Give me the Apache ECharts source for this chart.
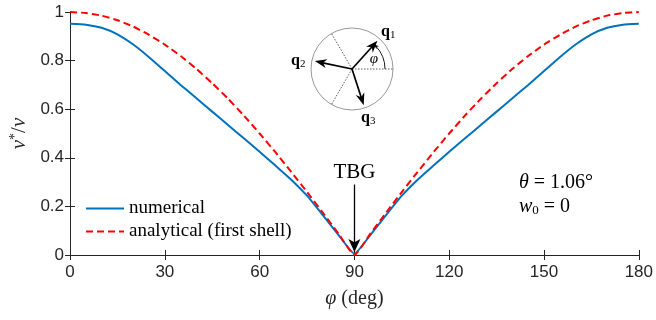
<!DOCTYPE html>
<html>
<head>
<meta charset="utf-8">
<script src="https://cdn.jsdelivr.net/npm/echarts@6/dist/echarts.min.js"></script>
<style>
  html, body { margin: 0; padding: 0; background: #fff; }
  #chart { width: 656px; height: 320px; }
</style>
</head>
<body>
<div id="chart"></div>
<script>
// angle phi (deg), every 5 degrees
const phi = [0, 5, 10, 15, 20, 25, 30, 35, 40, 45, 50, 55, 60, 65, 70, 75, 80, 85, 90,
  95, 100, 105, 110, 115, 120, 125, 130, 135, 140, 145, 150, 155, 160, 165, 170, 175, 180];
const numerical = [0.952, 0.948, 0.935, 0.908, 0.866, 0.814, 0.757, 0.700, 0.645, 0.590,
  0.535, 0.480, 0.425, 0.368, 0.310, 0.244, 0.164, 0.082, 0.005,
  0.082, 0.164, 0.244, 0.310, 0.368, 0.425, 0.480, 0.535, 0.590, 0.645, 0.700,
  0.757, 0.814, 0.866, 0.908, 0.935, 0.948, 0.952];
const analytical = [1.000, 0.996, 0.985, 0.966, 0.940, 0.906, 0.866, 0.819, 0.766, 0.707,
  0.643, 0.574, 0.500, 0.423, 0.342, 0.259, 0.174, 0.087, 0.000,
  0.087, 0.174, 0.259, 0.342, 0.423, 0.500, 0.574, 0.643, 0.707, 0.766, 0.819,
  0.866, 0.906, 0.940, 0.966, 0.985, 0.996, 1.000];
const xTicks = [0, 30, 60, 90, 120, 150, 180];
const yTicks = [0, 0.2, 0.4, 0.6, 0.8, 1];

const chart = echarts.init(document.getElementById('chart'));

const axisColor = '#262626';
const serif = 'Liberation Serif';

// inset: reciprocal vectors q1, q2, q3 in a circle
const cx = 352, cy = 69, R = 41;
const rad = (a) => (a * Math.PI) / 180;
const pt = (a, r) => [cx + r * Math.cos(rad(a)), cy - r * Math.sin(rad(a))];

function head(tip, a, len, w) {
  const dx = Math.cos(rad(a)), dy = -Math.sin(rad(a));
  const bx = tip[0] - dx * len, by = tip[1] - dy * len;
  const nx = tip[0] - dx * len * 0.7, ny = tip[1] - dy * len * 0.7;
  return [tip, [bx - dy * w, by + dx * w], [nx, ny], [bx + dy * w, by - dx * w]];
}

const inset = [];
inset.push({ type: 'circle', shape: { cx, cy, r: R }, style: { fill: 'none', stroke: '#999', lineWidth: 1 } });
[0, 120, 240].forEach((a) => {
  const p = pt(a, R);
  inset.push({ type: 'line', shape: { x1: cx, y1: cy, x2: p[0], y2: p[1] },
    style: { stroke: '#333', lineWidth: 0.8, lineDash: [1.5, 1.5] } });
});
[48, 168, 288].forEach((a) => {
  const p = pt(a, R - 3);
  const q = pt(a, R - 10);
  inset.push({ type: 'line', shape: { x1: cx, y1: cy, x2: q[0], y2: q[1] },
    style: { stroke: '#000', lineWidth: 1.7 } });
  inset.push({ type: 'polygon', shape: { points: head(p, a, 12, 4.5) }, style: { fill: '#000' } });
});
// phi arc
inset.push({ type: 'arc', shape: { cx, cy, r: 33, startAngle: 0, endAngle: -rad(44), clockwise: false },
  style: { stroke: '#000', lineWidth: 0.9, fill: 'none' } });
inset.push({ type: 'polygon', shape: { points: head(pt(48, 33), 138, 5, 2) }, style: { fill: '#000' } });
inset.push({ type: 'text', x: 374, y: 59, style: { text: 'φ', font: 'italic 15px ' + serif, fill: '#000', align: 'center', verticalAlign: 'middle' } });

const qLabels = [['1', 381, 32], ['2', 291, 61], ['3', 361, 118]];
qLabels.forEach(([s, x, y]) => {
  inset.push({ type: 'text', x, y, style: { text: 'q', font: 'bold 16px ' + serif, fill: '#000', verticalAlign: 'middle' } });
  inset.push({ type: 'text', x: x + 9, y: y + 3, style: { text: s, font: '11px ' + serif, fill: '#000', verticalAlign: 'middle' } });
});

const annot = [
  { type: 'text', x: 519, y: 183, style: {
    text: '{i|θ} = 1.06°', font: '20px ' + serif, fill: '#000', verticalAlign: 'middle',
    rich: { i: { fontStyle: 'italic', fontFamily: serif, fontSize: 20 } } } },
  { type: 'text', x: 519, y: 207, style: {
    text: '{i|w}{s|0} = 0', font: '20px ' + serif, fill: '#000', verticalAlign: 'middle',
    rich: { i: { fontStyle: 'italic', fontFamily: serif, fontSize: 20 },
      s: { fontFamily: serif, fontSize: 13, padding: [8, 0, 0, 0] } } } }
];

const baseX = {
  type: 'value', min: 0, max: 180, interval: 30,
  axisLine: { lineStyle: { color: axisColor, width: 1 } },
  axisTick: { inside: true, length: 5, lineStyle: { color: axisColor } },
  splitLine: { show: false }
};
const baseY = {
  type: 'value', min: 0, max: 1, interval: 0.2,
  axisLine: { show: true, lineStyle: { color: axisColor, width: 1 } },
  axisTick: { show: true, inside: true, length: 5, lineStyle: { color: axisColor } },
  splitLine: { show: false }
};

const option = {
  animation: false,
  backgroundColor: '#fff',
  grid: { left: 65, right: 17, top: 12, bottom: 65 },
  legend: {
    orient: 'vertical', left: 80, top: 194,
    itemWidth: 38, itemHeight: 12, itemGap: 4,
    itemStyle: { opacity: 0 },
    textStyle: { fontFamily: serif, fontSize: 19, color: '#000', lineHeight: 19 },
    data: ['numerical', 'analytical (first shell)']
  },
  xAxis: [
    Object.assign({}, baseX, {
      position: 'bottom',
      axisLabel: { fontFamily: 'Liberation Sans', fontSize: 17, color: axisColor, margin: 9,
        customValues: xTicks },
      name: '{i|φ} (deg)', nameLocation: 'middle', nameGap: 34,
      nameTextStyle: { fontFamily: serif, fontSize: 20, color: axisColor,
        rich: { i: { fontFamily: serif, fontStyle: 'italic', fontSize: 20, color: axisColor } } }
    }),
    Object.assign({}, baseX, { position: 'top', axisLabel: { show: false } })
  ],
  yAxis: [
    Object.assign({}, baseY, {
      position: 'left',
      axisLabel: { fontFamily: 'Liberation Sans', fontSize: 17, color: axisColor, margin: 6,
        formatter: (v) => (yTicks.includes(+v.toFixed(1)) ? String(+v.toFixed(1)) : '') },
      name: '{i|v}{s|*}{n|/}{i|v}', nameLocation: 'middle', nameGap: 38, nameRotate: 90,
      nameTextStyle: { fontFamily: serif, fontSize: 20, color: axisColor,
        rich: {
          i: { fontFamily: serif, fontStyle: 'italic', fontSize: 21, color: axisColor },
          s: { fontFamily: serif, fontSize: 14, color: axisColor, padding: [0, 0, 8, 0] },
          n: { fontFamily: serif, fontSize: 21, color: axisColor }
        } }
    }),
    Object.assign({}, baseY, { position: 'right', axisLabel: { show: false } })
  ],
  series: [
    {
      name: 'numerical', type: 'line', symbol: 'none', smooth: 0.15,
      color: '#0072BD',
      lineStyle: { color: '#0072BD', width: 2 },
      data: phi.map((p, i) => [p, numerical[i]]),
      z: 3,
      markLine: {
        silent: true, symbol: ['none', 'arrow'], symbolSize: [9, 13],
        lineStyle: { color: '#000', type: 'solid', width: 1.3 },
        label: { show: true, position: 'start', formatter: 'TBG', fontFamily: serif,
          fontSize: 21, color: '#000', distance: 2 },
        data: [[{ coord: [90, 0.29] }, { coord: [90, 0.012] }]]
      }
    },
    {
      name: 'analytical (first shell)', type: 'line', symbol: 'none', smooth: 0.15,
      color: '#FF0000',
      lineStyle: { color: '#FF0000', width: 2, type: [7, 4] },
      data: phi.map((p, i) => [p, analytical[i]]),
      z: 4
    }
  ],
  graphic: inset.concat(annot)
};

chart.setOption(option);
</script>
</body>
</html>
